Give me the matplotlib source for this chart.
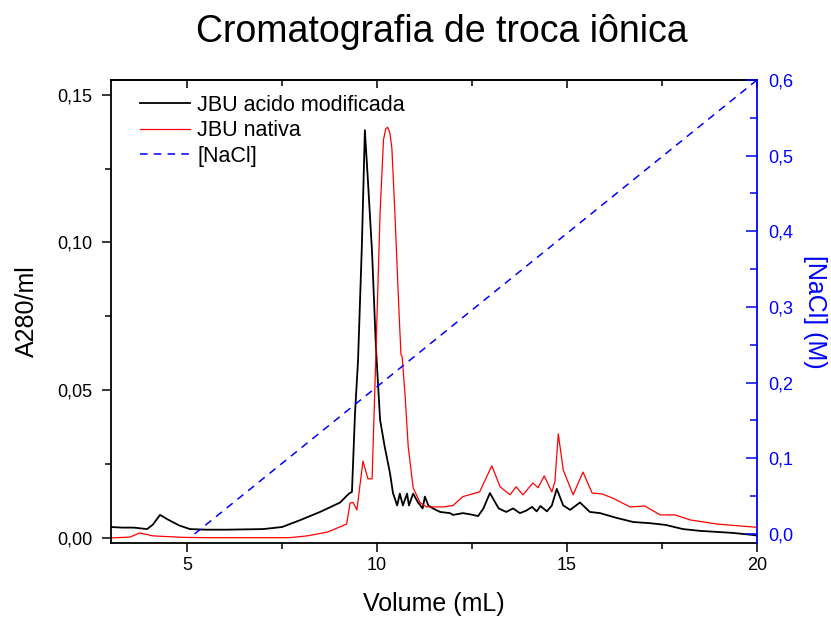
import matplotlib.pyplot as plt
from matplotlib.ticker import MultipleLocator, FuncFormatter

plt.rcParams['font.family'] = ['Liberation Sans', 'DejaVu Sans']

# JBU acido modificada
vol_mod = [3.0, 3.3, 3.6, 3.95, 4.1, 4.29, 4.5, 4.8, 5.08, 5.5, 6.0, 6.5, 7.0, 7.5, 7.97, 8.5,
           9.03, 9.26, 9.34, 9.42, 9.5, 9.6, 9.68, 9.76, 9.87, 9.97, 10.08, 10.2, 10.34, 10.42,
           10.53, 10.6, 10.68, 10.79, 10.84, 10.95, 11.08, 11.2, 11.26, 11.35, 11.47, 11.66,
           11.92, 12.0, 12.26, 12.45, 12.66, 12.8, 12.97, 13.2, 13.4, 13.58, 13.76, 13.92,
           14.08, 14.2, 14.3, 14.47, 14.6, 14.73, 14.9, 15.08, 15.34, 15.6, 15.87, 16.3,
           16.74, 17.18, 17.6, 18.05, 18.5, 19.0, 19.37, 19.9, 20.0]
a280_mod = [0.0037, 0.0035, 0.0035, 0.0030, 0.0045, 0.0078, 0.0062, 0.0042, 0.0030, 0.0028,
            0.0028, 0.0029, 0.0030, 0.0037, 0.0060, 0.0088, 0.0120, 0.0150, 0.0156, 0.0420,
            0.0600, 0.0985, 0.1380, 0.1210, 0.0965, 0.0647, 0.0400, 0.0310, 0.0220, 0.0152,
            0.0110, 0.0150, 0.0110, 0.0150, 0.0110, 0.0150, 0.0120, 0.0100, 0.0140, 0.0110,
            0.0100, 0.0088, 0.0084, 0.0078, 0.0084, 0.0080, 0.0074, 0.0100, 0.0152, 0.0100,
            0.0088, 0.0100, 0.0084, 0.0092, 0.0105, 0.0090, 0.0108, 0.0090, 0.0110, 0.0166,
            0.0110, 0.0095, 0.0120, 0.0088, 0.0084, 0.0068, 0.0054, 0.0050, 0.0044, 0.0030,
            0.0024, 0.0020, 0.0017, 0.0010, 0.0008]

# JBU nativa
vol_nat = [3.0, 3.5, 3.76, 4.1, 4.9, 5.5, 6.5, 7.7, 8.16, 8.7, 9.2, 9.29, 9.37, 9.47, 9.63,
           9.76, 9.87, 9.95, 10.08, 10.17, 10.23, 10.28, 10.34, 10.39, 10.47, 10.58, 10.63,
           10.66, 10.74, 10.82, 10.95, 11.13, 11.3, 11.74, 12.0, 12.26, 12.7, 13.02, 13.24,
           13.5, 13.66, 13.84, 14.1, 14.24, 14.4, 14.6, 14.68, 14.77, 14.9, 15.16, 15.42,
           15.66, 15.92, 16.2, 16.66, 17.05, 17.45, 17.84, 18.24, 18.95, 19.9, 20.0]
a280_nat = [0.0000, 0.0003, 0.0017, 0.0007, 0.0002, 0.0001, 0.0001, 0.0001, 0.0007, 0.0020,
            0.0047, 0.0118, 0.0120, 0.0095, 0.0260, 0.0200, 0.0200, 0.0535, 0.1100, 0.1348,
            0.1385, 0.1390, 0.1370, 0.1320, 0.1100, 0.0760, 0.0620, 0.0615, 0.0480, 0.0310,
            0.0170, 0.0120, 0.0105, 0.0105, 0.0110, 0.0140, 0.0156, 0.0244, 0.0173, 0.0146,
            0.0173, 0.0146, 0.0186, 0.0170, 0.0210, 0.0156, 0.0190, 0.0352, 0.0230, 0.0146,
            0.0223, 0.0152, 0.0149, 0.0135, 0.0105, 0.0108, 0.0078, 0.0078, 0.0061, 0.0047,
            0.0037, 0.0036]

# gradiente de NaCl
vol_nacl = [5.2, 20.0]
conc_nacl = [0.0, 0.6]

fig = plt.figure(figsize=(8.31, 6.18), dpi=100)
ax = fig.add_axes([0.1336, 0.1214, 0.7774, 0.7492])
ax2 = ax.twinx()

l1, = ax.plot(vol_mod, a280_mod, color='black', lw=1.3, label='JBU acido modificada')
l2, = ax.plot(vol_nat, a280_nat, color='red', lw=0.9, label='JBU nativa')
l3, = ax2.plot(vol_nacl, conc_nacl, color='blue', lw=1.1, ls=(0, (5, 4)), label='[NaCl]')

ax.set_xlim(3, 20)
ax.set_ylim(-0.0017, 0.155)
ax2.set_ylim(-0.012, 0.6)

comma = lambda fmt: FuncFormatter(lambda v, p: (fmt % v).replace('.', ','))

ax.xaxis.set_major_locator(MultipleLocator(5))
ax.xaxis.set_minor_locator(MultipleLocator(2.5))
ax.yaxis.set_major_locator(MultipleLocator(0.05))
ax.yaxis.set_minor_locator(MultipleLocator(0.025))
ax.yaxis.set_major_formatter(comma('%.2f'))
ax.tick_params(which='both', direction='out', labelsize=13, width=1.1)
ax.tick_params(which='major', length=6.5)
ax.tick_params(which='minor', length=4)
ax.tick_params(axis='y', which='major', pad=7)

# eixo superior com marcas para dentro
top = ax.secondary_xaxis('top')
top.xaxis.set_major_locator(MultipleLocator(5))
top.xaxis.set_minor_locator(MultipleLocator(2.5))
top.tick_params(which='both', direction='in', labeltop=False, width=1.1)
top.tick_params(which='major', length=6)
top.tick_params(which='minor', length=4)
top.spines['top'].set_linewidth(1.3)

ax2.yaxis.set_major_locator(MultipleLocator(0.1))
ax2.yaxis.set_minor_locator(MultipleLocator(0.05))
ax2.yaxis.set_major_formatter(comma('%.1f'))
ax2.tick_params(which='both', direction='in', colors='blue', labelsize=13, width=1.1, pad=8)
ax2.tick_params(which='major', length=8)
ax2.tick_params(which='minor', length=5)
ax2.spines['right'].set_color('blue')
ax2.spines['right'].set_linewidth(1.3)
for s in ['left', 'top', 'bottom']:
    ax2.spines[s].set_visible(False)
for s in ['left', 'top', 'bottom']:
    ax.spines[s].set_linewidth(1.3)
ax.spines['right'].set_visible(False)

ax.set_xlabel('Volume (mL)', fontsize=18, labelpad=13)
ax.set_ylabel('A280/ml', fontsize=18, labelpad=13)
ax2.set_ylabel('[NaCl] (M)', fontsize=18, color='blue', rotation=270, labelpad=24)
ax.set_title('Cromatografia de troca iônica', fontsize=27, pad=27, x=0.512)

ax.legend(handles=[l1, l2, l3], loc='upper left', frameon=False, fontsize=15.5,
          handlelength=2.3, handletextpad=0.35, labelspacing=0.2,
          borderpad=0, borderaxespad=0,
          bbox_to_anchor=((140 - 111) / 646, 1 - (95 - 80) / 463))

fig.savefig('out.png', dpi=100)
